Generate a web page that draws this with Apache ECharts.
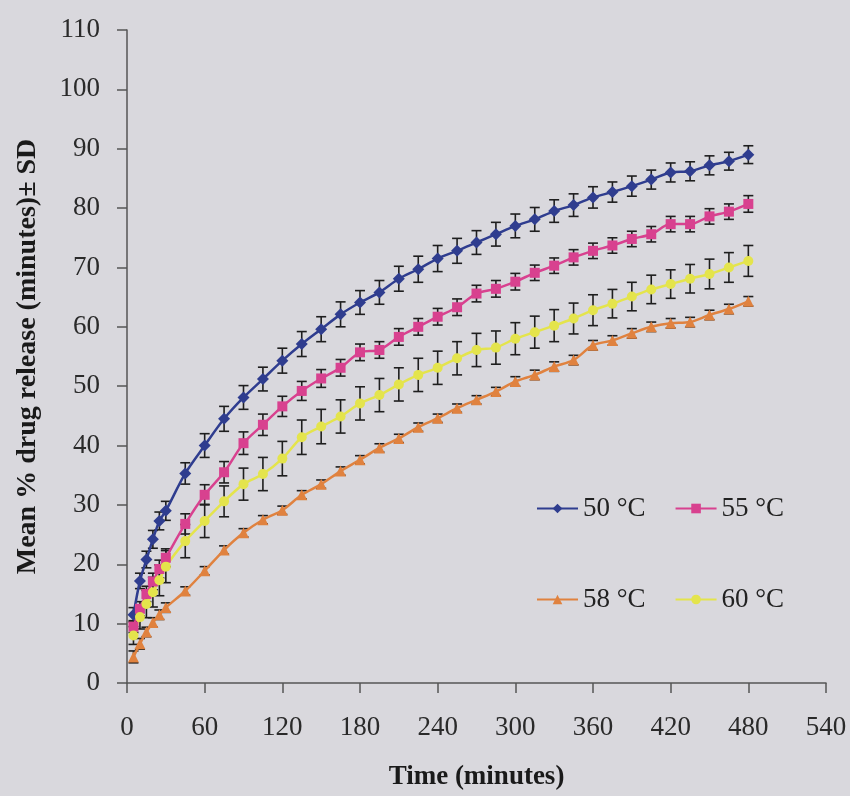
<!DOCTYPE html>
<html>
<head>
<meta charset="utf-8">
<script src="https://cdn.jsdelivr.net/npm/echarts@6/dist/echarts.min.js"></script>
<style>
html,body{margin:0;padding:0;background:#d9d8dd;}
#chart{width:850px;height:796px;}
</style>
</head>
<body>
<div id="chart"></div>
<script>
var times = [5,10,15,20,25,30,45,60,75,90,105,120,135,150,165,180,195,210,225,240,255,270,285,300,315,330,345,360,375,390,405,420,435,450,465,480];

var mean50 = [11.5,17.2,20.8,24.2,27.3,29.0,35.3,40.0,44.5,48.1,51.2,54.3,57.1,59.6,62.1,64.1,65.8,68.1,69.7,71.5,72.8,74.2,75.6,77.0,78.1,79.5,80.5,81.8,82.7,83.7,84.8,86.0,86.2,87.2,87.9,89.0];
var sd50   = [1.2,1.3,1.4,1.5,1.5,1.6,1.8,2.0,2.1,2.0,2.0,2.1,2.1,2.1,2.1,2.0,2.0,2.1,2.2,2.2,2.1,2.0,2.0,2.0,2.0,1.9,1.9,1.8,1.7,1.7,1.6,1.6,1.6,1.6,1.5,1.5];

var mean55 = [9.5,12.5,15.0,17.1,19.2,21.1,26.8,31.7,35.5,40.4,43.5,46.6,49.2,51.3,53.1,55.7,56.1,58.3,60.0,61.7,63.3,65.6,66.4,67.6,69.1,70.3,71.7,72.8,73.7,74.8,75.6,77.3,77.3,78.6,79.4,80.7];
var sd55   = [1.0,1.2,1.3,1.4,1.5,1.5,1.7,1.7,1.8,1.9,1.8,1.7,1.6,1.5,1.4,1.4,1.4,1.4,1.4,1.4,1.4,1.4,1.4,1.4,1.3,1.3,1.3,1.3,1.3,1.3,1.3,1.3,1.3,1.3,1.3,1.4];

var mean58 = [4.4,6.6,8.6,10.2,11.5,12.7,15.5,18.9,22.4,25.3,27.5,29.1,31.7,33.5,35.7,37.6,39.6,41.2,43.1,44.6,46.3,47.7,49.1,50.8,51.9,53.3,54.4,56.9,57.7,58.9,60.0,60.6,60.8,62.0,63.0,64.3];
var sd58   = [1.0,0.9,0.8,0.8,0.8,0.8,0.7,0.7,0.7,0.7,0.7,0.7,0.7,0.7,0.7,0.7,0.7,0.7,0.7,0.7,0.7,0.7,0.7,0.8,0.8,0.8,0.8,0.8,0.8,0.8,0.8,0.8,0.8,0.8,0.8,0.8];

var mean60 = [8.0,11.1,13.3,15.3,17.3,19.6,23.9,27.3,30.6,33.5,35.2,37.8,41.4,43.2,44.9,47.1,48.5,50.3,51.9,53.1,54.7,56.1,56.5,58.0,59.1,60.2,61.4,62.8,63.9,65.1,66.3,67.2,68.1,68.9,70.0,71.1];
var sd60   = [1.5,2.0,2.3,2.5,2.6,2.7,2.8,2.8,2.6,2.7,2.8,2.9,2.9,2.9,2.8,2.8,2.8,2.8,2.8,2.8,2.8,2.8,2.8,2.7,2.7,2.7,2.6,2.6,2.4,2.4,2.4,2.4,2.4,2.5,2.5,2.6];

var seriesNames = ['50 \u00B0C','55 \u00B0C','58 \u00B0C','60 \u00B0C'];
var xTicks = {min:0, max:540, interval:60};
var yTicks = {min:0, max:110, interval:10};

var groups = [
  {name:seriesNames[0], mean:mean50, sd:sd50, color:'#2f3d8f', symbol:'diamond', size:12},
  {name:seriesNames[1], mean:mean55, sd:sd55, color:'#d8418f', symbol:'rect', size:10},
  {name:seriesNames[2], mean:mean58, sd:sd58, color:'#e0823f', symbol:'triangle', size:11},
  {name:seriesNames[3], mean:mean60, sd:sd60, color:'#e4e44c', symbol:'circle', size:10}
];

var FONT = '"Liberation Serif","Times New Roman",serif';

function errRender(params, api){
  var x = api.value(0), lo = api.value(1), hi = api.value(2);
  var pLo = api.coord([x, lo]);
  var pHi = api.coord([x, hi]);
  var w = 5;
  var st = {stroke:'#1e1e1e', lineWidth:1.6};
  return {type:'group', children:[
    {type:'line', shape:{x1:pLo[0], y1:pLo[1], x2:pHi[0], y2:pHi[1]}, style:st},
    {type:'line', shape:{x1:pLo[0]-w, y1:pLo[1], x2:pLo[0]+w, y2:pLo[1]}, style:st},
    {type:'line', shape:{x1:pHi[0]-w, y1:pHi[1], x2:pHi[0]+w, y2:pHi[1]}, style:st}
  ]};
}

var series = [];
groups.forEach(function(g){
  series.push({
    type:'custom', name:g.name+' err', renderItem:errRender, z:1, silent:true,
    data: times.map(function(t,i){ return [t, g.mean[i]-g.sd[i], g.mean[i]+g.sd[i]]; }),
    encode:{x:0, y:[1,2]}
  });
});
groups.forEach(function(g){
  series.push({
    type:'line', name:g.name, z:3, smooth:0.3,
    data: times.map(function(t,i){ return [t, g.mean[i]]; }),
    symbol:g.symbol, symbolSize:g.size, showSymbol:true,
    itemStyle:{color:g.color},
    lineStyle:{color:g.color, width:2.5},
    animation:false
  });
});

var chart = echarts.init(document.getElementById('chart'), null, {renderer:'canvas'});
chart.setOption({
  backgroundColor:'#d9d8dd',
  animation:false,
  grid:{left:127, right:24, top:30, bottom:110, containLabel:false},
  legend:[
    {data:[seriesNames[0], seriesNames[1]], left:531, top:490, itemWidth:41, itemHeight:12, itemGap:29,
     textStyle:{fontFamily:FONT, fontSize:27, color:'#222'}},
    {data:[seriesNames[2], seriesNames[3]], left:531, top:581, itemWidth:41, itemHeight:12, itemGap:29,
     textStyle:{fontFamily:FONT, fontSize:27, color:'#222'}}
  ],
  xAxis:{
    type:'value', min:xTicks.min, max:xTicks.max, interval:xTicks.interval,
    name:'Time (minutes)', nameLocation:'middle', nameGap:81,
    nameTextStyle:{fontFamily:FONT, fontSize:27, fontWeight:'bold', color:'#1a1a1a'},
    axisLine:{lineStyle:{color:'#555', width:1.5}},
    axisTick:{show:true, inside:false, length:10, lineStyle:{color:'#555', width:1.5}},
    axisLabel:{fontFamily:FONT, fontSize:27, color:'#2a2a2a', margin:31},
    splitLine:{show:false}
  },
  yAxis:{
    type:'value', min:yTicks.min, max:yTicks.max, interval:yTicks.interval,
    name:'Mean % drug release (minutes)\u00B1 SD', nameLocation:'middle', nameGap:85,
    nameTextStyle:{fontFamily:FONT, fontSize:28, fontWeight:'bold', color:'#1a1a1a'},
    axisLine:{show:true, lineStyle:{color:'#555', width:1.5}},
    axisTick:{show:true, inside:false, length:10, lineStyle:{color:'#555', width:1.5}},
    axisLabel:{fontFamily:FONT, fontSize:27, color:'#2a2a2a', margin:27},
    splitLine:{show:false}
  },
  series:series
});
</script>
</body>
</html>
